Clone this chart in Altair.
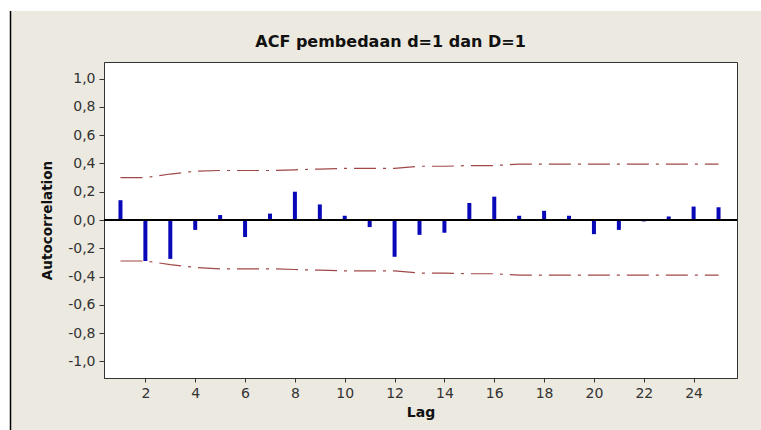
import altair as alt
import pandas as pd

lags = [1, 2, 3, 4, 5, 6, 7, 8, 9, 10, 11, 12, 13, 14, 15, 16, 17, 18, 19, 20, 21, 22, 23, 24, 25]
acf = [0.14, -0.29, -0.275, -0.07, 0.035, -0.12, 0.045, 0.20, 0.11, 0.03, -0.05, -0.26, -0.105,
       -0.09, 0.12, 0.165, 0.03, 0.065, 0.03, -0.10, -0.07, -0.01, 0.025, 0.095, 0.09]
upper = [0.30, 0.30, 0.325, 0.345, 0.35, 0.35, 0.35, 0.355, 0.36, 0.365, 0.365, 0.365, 0.38,
         0.38, 0.385, 0.385, 0.395, 0.395, 0.395, 0.395, 0.395, 0.395, 0.395, 0.395, 0.395]
lower = [-0.29, -0.29, -0.315, -0.335, -0.345, -0.345, -0.345, -0.35, -0.355, -0.36, -0.36, -0.36, -0.375,
         -0.375, -0.38, -0.38, -0.39, -0.39, -0.39, -0.39, -0.39, -0.39, -0.39, -0.39, -0.39]
y_ticks = [-1.0, -0.8, -0.6, -0.4, -0.2, 0.0, 0.2, 0.4, 0.6, 0.8, 1.0]
x_ticks = [2, 4, 6, 8, 10, 12, 14, 16, 18, 20, 22, 24]

df = pd.DataFrame({"Lag": lags, "acf": acf, "upper": upper, "lower": lower})

W, H = 633, 316
FONT = "DejaVu Sans"

xs = alt.Scale(domain=[0.54, 25.54], nice=False)
ys = alt.Scale(domain=[-1.117, 1.117], nice=False)

xaxis = alt.Axis(values=x_ticks, title="Lag", grid=False, labelFontSize=14, labelFont=FONT,
                 labelColor="#333333", titleFont=FONT, titleFontSize=14, titleFontWeight="bold",
                 titleColor="#111111", tickSize=4, labelPadding=4, titlePadding=5,
                 domainColor="#333333", tickColor="#333333", labelFlush=False, labelOverlap=False)
yaxis = alt.Axis(values=y_ticks, title="Autocorrelation", grid=False, labelFontSize=14, labelFont=FONT,
                 labelColor="#333333", titleFont=FONT, titleFontSize=13.5, titleFontWeight="bold",
                 titleColor="#111111", tickSize=5, labelPadding=4, titlePadding=13,
                 domainColor="#333333", tickColor="#333333", labelOverlap=False, labelFlush=False,
                 labelExpr="replace(replace(format(datum.value, '.1f'), '.', ','), '\u2212', '-')")

base = alt.Chart(df)

bars = base.mark_bar(size=4, color="#0808B8").encode(
    x=alt.X("Lag:Q", scale=xs, axis=xaxis),
    y=alt.Y("acf:Q", scale=ys, axis=yaxis),
)

zero = base.mark_rule(color="black", strokeWidth=1).encode(
    y=alt.Y(datum=0, scale=ys, axis=yaxis))

dash = [22, 7, 3, 7]
up_line = base.mark_line(color="#A04848", strokeWidth=1.2, strokeDash=dash).encode(
    x=alt.X("Lag:Q", scale=xs, axis=xaxis), y=alt.Y("upper:Q", scale=ys, axis=yaxis))
lo_line = base.mark_line(color="#A04848", strokeWidth=1.2, strokeDash=dash).encode(
    x=alt.X("Lag:Q", scale=xs, axis=xaxis), y=alt.Y("lower:Q", scale=ys, axis=yaxis))

one = alt.Data(values=[{"k": 1}])
top_strip = alt.Chart(one).mark_rect(color="white").encode(
    x=alt.value(-104), x2=alt.value(W + 24), y=alt.value(-62), y2=alt.value(-51))
left_strip = alt.Chart(one).mark_rect(color="white").encode(
    x=alt.value(-104), x2=alt.value(-94), y=alt.value(-62), y2=alt.value(H + 52))
left_line = alt.Chart(one).mark_rule(color="black", strokeWidth=1.5).encode(
    x=alt.value(-93.5), y=alt.value(-51), y2=alt.value(H + 52))

chart = alt.layer(bars, zero, up_line, lo_line, top_strip, left_strip, left_line).properties(
    width=W, height=H,
    autosize=alt.AutoSizeParams(type="none"),
    padding={"left": 104, "top": 62, "right": 24, "bottom": 52},
    background="#ECE9E0",
    title=alt.TitleParams("ACF pembedaan d=1 dan D=1", font=FONT, fontSize=16, fontWeight="bold",
                          color="#111111", anchor="middle", dx=-30, offset=0, dy=66,
                          baseline="bottom"),
).configure_view(fill="white", stroke="#333333", strokeWidth=1
).configure_axis(labelOverlap=False)

chart.save("out.html", embed_options={"renderer": "svg", "actions": False})
